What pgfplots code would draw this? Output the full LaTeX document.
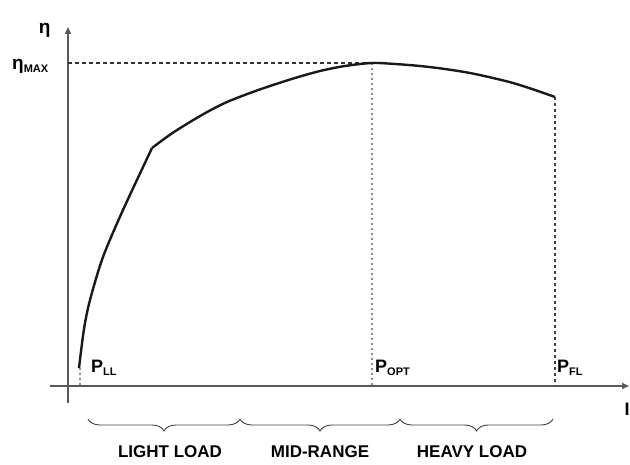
\documentclass[border=0pt]{standalone}
\usepackage{pgfplots}
\pgfplotsset{compat=1.18}
\usepackage{fontspec}
\setmainfont{Liberation Sans}
\usetikzlibrary{decorations.pathreplacing,arrows.meta}
\begin{document}
\begin{tikzpicture}
\begin{axis}[width=630pt,height=464pt,scale only axis,
  xmin=0,xmax=630,ymin=0,ymax=464,axis lines=none,clip=false]
\path (axis cs:0,0) rectangle (axis cs:630,464);
% axes
\draw[line width=1.6pt,black!65,-{Triangle[length=7pt,width=6pt]}] (axis cs:68,61) -- (axis cs:68,437);
\draw[line width=1.6pt,black!65,-{Triangle[length=7pt,width=6pt]}] (axis cs:50,78) -- (axis cs:629,78);
% guides
\draw[line width=1.2pt,black!80,dash pattern=on 4pt off 3pt] (axis cs:68,401) -- (axis cs:372,401);
\draw[line width=1.2pt,black!45,dash pattern=on 2pt off 3pt] (axis cs:372,401) -- (axis cs:372,78);
\draw[line width=1.2pt,black!75,dash pattern=on 3pt off 3pt] (axis cs:555,367) -- (axis cs:555,78);
\draw[line width=1.2pt,black!45,dash pattern=on 2pt off 3pt] (axis cs:80,96) -- (axis cs:80,78);
% curve
\addplot[line width=2.4pt,black!90,smooth,tension=0.5] coordinates {
(79,96) (84,135) (90,164) (103,207) (123,254) (152,316)};
\addplot[line width=2.4pt,black!90,smooth,tension=0.5] coordinates {
(152,316) (171,330) (190,342) (209,353) (227,362) (250,371) (270,378) (295,386) (320,393) (345,398) (372,401)
(395,400) (420,398) (445,395) (470,391) (493,386) (513,381) (535,374) (555,367)};
% labels
\node[anchor=base east,font=\bfseries\fontsize{19}{19}\selectfont] at (axis cs:54,430) {η};
\node[anchor=base west,font=\bfseries\fontsize{19}{19}\selectfont,inner sep=0pt] at (axis cs:12,394) {η\textsubscript{\fontsize{11}{11}\selectfont MAX}};
\node[anchor=base west,font=\bfseries\fontsize{18}{18}\selectfont,inner sep=0pt] at (axis cs:91,91) {P\textsubscript{\fontsize{11}{11}\selectfont LL}};
\node[anchor=base west,font=\bfseries\fontsize{18}{18}\selectfont,inner sep=0pt] at (axis cs:375,91) {P\textsubscript{\fontsize{11}{11}\selectfont OPT}};
\node[anchor=base west,font=\bfseries\fontsize{18}{18}\selectfont,inner sep=0pt] at (axis cs:557,91) {P\textsubscript{\fontsize{11}{11}\selectfont FL}};
\node[anchor=base,font=\bfseries\fontsize{18}{18}\selectfont,inner sep=0pt] at (axis cs:627,48) {I};
% braces
\draw[line width=0.9pt,black!75,decorate,decoration={brace,mirror,amplitude=12pt}] (axis cs:88,45) -- (axis cs:240,45);
\draw[line width=0.9pt,black!75,decorate,decoration={brace,mirror,amplitude=12pt}] (axis cs:240,45) -- (axis cs:400,45);
\draw[line width=0.9pt,black!75,decorate,decoration={brace,mirror,amplitude=12pt}] (axis cs:400,45) -- (axis cs:553,45);
\node[anchor=base,font=\bfseries\fontsize{17}{17}\selectfont,inner sep=0pt] at (axis cs:170,6) {LIGHT LOAD};
\node[anchor=base,font=\bfseries\fontsize{17}{17}\selectfont,inner sep=0pt] at (axis cs:320,6) {MID-RANGE};
\node[anchor=base,font=\bfseries\fontsize{17}{17}\selectfont,inner sep=0pt] at (axis cs:472,6) {HEAVY LOAD};
\end{axis}
\end{tikzpicture}
\end{document}
